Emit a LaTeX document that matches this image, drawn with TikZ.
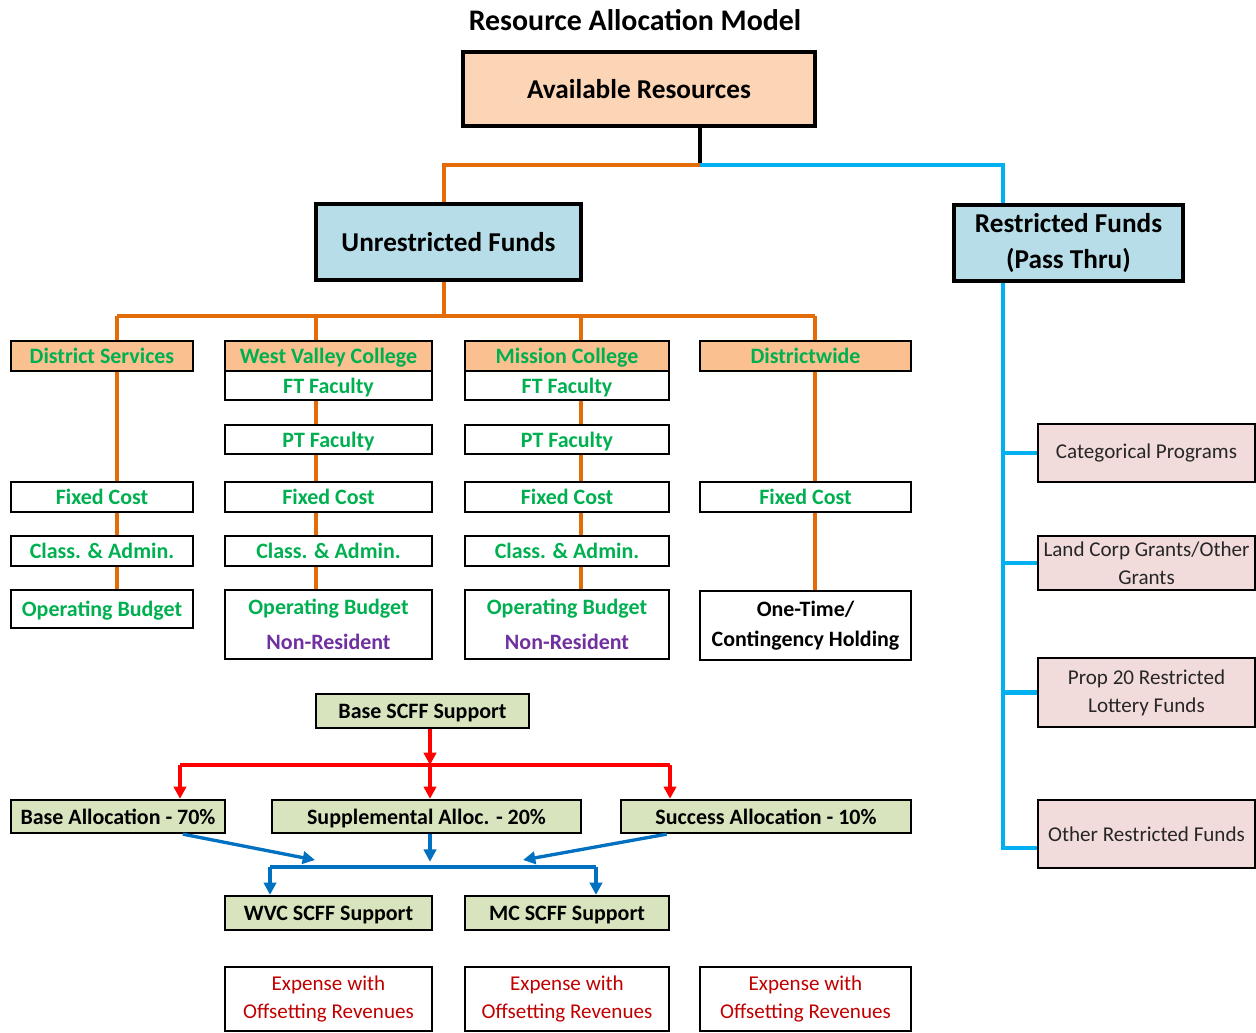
\documentclass[tikz,border=0pt]{standalone}
\usepackage{fontspec}
\setmainfont{Carlito}
\usetikzlibrary{arrows.meta,calc}

\definecolor{peach}{HTML}{FBD5B5}
\definecolor{lblue}{HTML}{B7DEE8}
\definecolor{hdr}{HTML}{FAC090}
\definecolor{pinkbox}{HTML}{F2DCDB}
\definecolor{olivebox}{HTML}{D7E4BD}
\definecolor{grn}{HTML}{00B050}
\definecolor{purp}{HTML}{7030A0}
\definecolor{darkred}{HTML}{C00000}
\definecolor{orng}{HTML}{E36C09}
\definecolor{skyblue}{HTML}{00B0F0}
\definecolor{arrblue}{HTML}{0070C0}
\definecolor{arrred}{HTML}{FF0000}

\begin{document}
\begin{tikzpicture}[x=0.02cm,y=-0.02cm,
    wh/.style 2 args={minimum width=#1*0.02cm,minimum height=#2*0.02cm},
    oneline/.style={text height=0.88em,text depth=0em},
    bigbox/.style={draw,line width=2.2pt,fill=lblue,inner sep=0pt,align=center,
      font=\fontsize{15.5}{21}\selectfont\bfseries},
    smallbox/.style={draw,line width=1.3pt,inner sep=0pt,align=center,text=grn,
      font=\fontsize{12.5}{20}\selectfont\bfseries},
    head/.style={smallbox,oneline,fill=hdr},
    scff/.style={draw,line width=1.3pt,fill=olivebox,inner sep=0pt,oneline,
      font=\fontsize{12.5}{15}\selectfont\bfseries},
    pinkb/.style={draw,line width=1.3pt,fill=pinkbox,inner sep=0pt,align=center,
      text=black!85,font=\fontsize{12}{16}\selectfont},
    expb/.style={draw,line width=1.3pt,inner sep=0pt,align=center,text=darkred,
      font=\fontsize{12}{16}\selectfont},
    orline/.style={orng,line width=2pt},
    skyline/.style={skyblue,line width=2.3pt},
    redline/.style={arrred,line width=1.9pt},
    redarr/.style={redline,-{Triangle[width=7pt,length=7pt]}},
    blueline/.style={arrblue,line width=1.9pt},
    bluearr/.style={blueline,-{Triangle[width=7pt,length=7pt]}}]

  \useasboundingbox (0,0) rectangle (1256,1032);

  % top of the tree
  \node[font=\fontsize{17}{20}\selectfont\bfseries] (title) at (635,20) {Resource Allocation Model};
  \node[bigbox,fill=peach,wh={352}{74}] (avail) at (639,89) {Available Resources};
  \node[bigbox,wh={265}{76}] (unres) at (448.5,242) {Unrestricted Funds};
  \node[bigbox,wh={229}{76}] (restr) at (1068.5,243) {Restricted Funds\\(Pass Thru)};

  \coordinate (top) at (700,165);
  \coordinate (ux) at (444,165);
  \coordinate (rx) at (1003,165);
  \draw[line width=2.2pt] (avail.south -| top) -- (top);
  \draw[orline] (top) -- (ux) -- (unres.north -| ux);
  \draw[skyline] (top) -- (rx) -- (restr.north -| rx);

  % unrestricted columns
  \node[head,wh={182}{30}] (ds) at (102,356) {District Services};
  \node[head,wh={207}{30}] (wvc) at (328.5,356) {West Valley College};
  \node[head,wh={204}{30}] (mc) at (567,356) {Mission College};
  \node[head,wh={211}{30}] (dw) at (805.5,356) {Districtwide};

  \foreach \c/\x/\w in {wvc/328.5/207, mc/567/204}{
    \node[smallbox,oneline,wh={\w}{29}] (\c-ft) at (\x,385.5) {FT Faculty};
    \node[smallbox,oneline,wh={\w}{29}] (\c-pt) at (\x,439.5) {PT Faculty};
  }
  \foreach \c/\x/\w/\lx in {ds/102/182/117, wvc/328.5/207/316, mc/567/204/581, dw/805.5/211/815}{
    \node[smallbox,oneline,wh={\w}{30}] (\c-fc) at (\x,497) {Fixed Cost};
    \coordinate (\c-x) at (\lx,316);
  }
  \foreach \c/\x/\w in {ds/102/182, wvc/328.5/207, mc/567/204}
    \node[smallbox,oneline,wh={\w}{30}] (\c-ca) at (\x,551) {Class. \& Admin.};

  \node[smallbox,oneline,wh={182}{38}] (ds-ob) at (102,609) {Operating Budget};
  \node[smallbox,wh={207}{69}] (wvc-ob) at (328.5,624.5) {Operating Budget\\\textcolor{purp}{Non-Resident}};
  \node[smallbox,wh={204}{69}] (mc-ob) at (567,624.5) {Operating Budget\\\textcolor{purp}{Non-Resident}};
  \node[smallbox,text=black,wh={211}{69},font=\fontsize{12.5}{17}\selectfont\bfseries] (dw-ot) at (805.5,625.5) {One-Time/\\Contingency Holding};

  \draw[orline] (unres.south -| ux) -- (ux |- ds-x);
  \draw[orline] (ds-x) -- (dw-x);
  \foreach \c in {ds,wvc,mc,dw}
    \draw[orline] (\c-x) -- (\c.north -| \c-x);
  \draw[orline] (ds.south -| ds-x) -- (ds-fc.north -| ds-x);
  \draw[orline] (ds-fc.south -| ds-x) -- (ds-ca.north -| ds-x);
  \draw[orline] (ds-ca.south -| ds-x) -- (ds-ob.north -| ds-x);
  \foreach \c in {wvc,mc}{
    \draw[orline] (\c-ft.south -| \c-x) -- (\c-pt.north -| \c-x);
    \draw[orline] (\c-pt.south -| \c-x) -- (\c-fc.north -| \c-x);
    \draw[orline] (\c-fc.south -| \c-x) -- (\c-ca.north -| \c-x);
    \draw[orline] (\c-ca.south -| \c-x) -- (\c-ob.north -| \c-x);
  }
  \draw[orline] (dw.south -| dw-x) -- (dw-fc.north -| dw-x);
  \draw[orline] (dw-fc.south -| dw-x) -- (dw-ot.north -| dw-x);

  % restricted side
  \node[pinkb,wh={217}{58}] (cat) at (1146.5,453) {Categorical Programs};
  \node[pinkb,wh={217}{54}] (land) at (1146.5,563) {Land Corp Grants/Other\\Grants};
  \node[pinkb,wh={217}{69}] (prop) at (1146.5,692.5) {Prop 20 Restricted\\Lottery Funds};
  \node[pinkb,wh={217}{68}] (oth) at (1146.5,834) {Other Restricted Funds};

  \coordinate (rbot) at (1003,848);
  \draw[skyline] (restr.south -| rbot) -- (rbot) -- (rbot -| oth.west);
  \foreach \n in {cat,land,prop}
    \draw[skyline] (\n.west -| rbot) -- (\n.west);

  % SCFF
  \node[scff,wh={213}{34}] (base) at (422.5,711) {Base SCFF Support};
  \node[scff,wh={214}{33}] (ba) at (118,816.5) {Base Allocation - 70\%};
  \node[scff,wh={309}{33}] (sa) at (426.5,816.5) {Supplemental Alloc. - 20\%};
  \node[scff,wh={290}{33}] (su) at (766,816.5) {Success Allocation - 10\%};
  \node[scff,wh={207}{34}] (wvcs) at (328.5,913) {WVC SCFF Support};
  \node[scff,wh={204}{34}] (mcs) at (567,913) {MC SCFF Support};

  \coordinate (rsplit) at (430,765);
  \coordinate (rl) at (180,765);
  \coordinate (rr) at (670,765);
  \draw[redarr] (base.south -| rsplit) -- (rsplit);
  \draw[redline] (rl) -- (rr);
  \draw[redarr] (rl) -- (ba.north -| rl);
  \draw[redarr] (rsplit) -- (sa.north -| rsplit);
  \draw[redarr] (rr) -- (su.north -| rr);

  \coordinate (bsplit) at (430,867);
  \coordinate (bl) at (270,867);
  \coordinate (br) at (596,867);
  \coordinate (bin-l) at (315,860);
  \coordinate (bin-r) at (523,860);
  \draw[bluearr] ($(ba.south)!0.6!(ba.south east)$) -- (bin-l);
  \draw[bluearr] ($(su.south)!0.68!(su.south west)$) -- (bin-r);
  \draw[bluearr] (sa.south -| bsplit) -- ([yshift=3pt]bsplit);
  \draw[blueline] (bl) -- (br);
  \draw[bluearr] (bl) -- (wvcs.north -| bl);
  \draw[bluearr] (br) -- (mcs.north -| br);

  % expense boxes
  \node[expb,wh={207}{64}] (exp1) at (328.5,999) {Expense with\\Offsetting Revenues};
  \node[expb,wh={204}{64}] (exp2) at (567,999) {Expense with\\Offsetting Revenues};
  \node[expb,wh={211}{64}] (exp3) at (805.5,999) {Expense with\\Offsetting Revenues};

\end{tikzpicture}
\end{document}
